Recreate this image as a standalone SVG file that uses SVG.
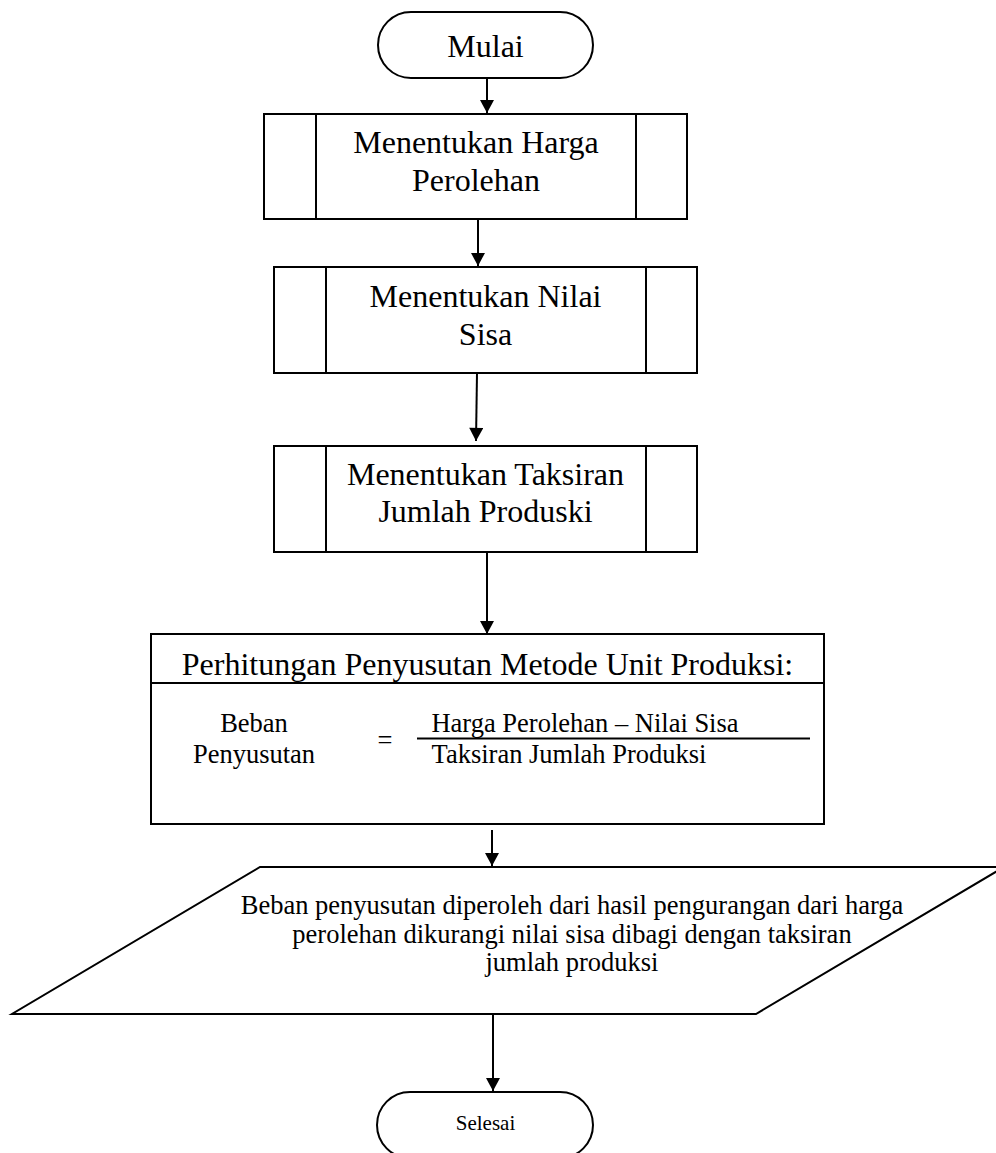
<svg xmlns="http://www.w3.org/2000/svg" width="996" height="1153" viewBox="0 0 996 1153">
  <style>
    .shape { fill: #ffffff; stroke: #000000; stroke-width: 2; }
    .line { fill: none; stroke: #000000; stroke-width: 2; }
    .conn { fill: none; stroke: #000000; stroke-width: 2; marker-end: url(#arrow); }
    text { font-family: "Liberation Serif", "Times New Roman", serif; fill: #000000; text-anchor: middle; }
    .big { font-size: 32px; }
    .mid { font-size: 26.5px; }
    .small { font-size: 21px; }
  </style>
  <defs>
    <marker id="arrow" viewBox="0 0 14 15" refX="14" refY="7.5" markerWidth="15" markerHeight="14" markerUnits="userSpaceOnUse" orient="auto">
      <path d="M0,0 L14,7.5 L0,15 Z" fill="#000000"/>
    </marker>
  </defs>
  <rect width="996" height="1153" fill="#ffffff"/>

  <g id="connectors">
    <path class="conn" d="M487,78 L487,113"/>
    <path class="conn" d="M478,219 L478,266"/>
    <path class="conn" d="M477,373 L476,441"/>
    <path class="conn" d="M487,552 L487,634"/>
    <path class="conn" d="M492,830 L492,866"/>
    <path class="conn" d="M493,1014 L493,1091"/>
  </g>

  <g id="mulai">
    <rect class="shape" x="378" y="12" width="215" height="66" rx="33" ry="33"/>
    <text class="big" x="485.5" y="57">Mulai</text>
  </g>

  <g id="harga-perolehan">
    <rect class="shape" x="264" y="114" width="423" height="105"/>
    <line class="line" x1="316" y1="114" x2="316" y2="219"/>
    <line class="line" x1="636" y1="114" x2="636" y2="219"/>
    <text class="big" x="476" y="153">Menentukan Harga</text>
    <text class="big" x="476" y="191">Perolehan</text>
  </g>

  <g id="nilai-sisa">
    <rect class="shape" x="274" y="267" width="423" height="106"/>
    <line class="line" x1="326" y1="267" x2="326" y2="373"/>
    <line class="line" x1="646" y1="267" x2="646" y2="373"/>
    <text class="big" x="485.5" y="307">Menentukan Nilai</text>
    <text class="big" x="485.5" y="345">Sisa</text>
  </g>

  <g id="taksiran">
    <rect class="shape" x="274" y="446" width="423" height="106"/>
    <line class="line" x1="326" y1="446" x2="326" y2="552"/>
    <line class="line" x1="646" y1="446" x2="646" y2="552"/>
    <text class="big" x="485.5" y="485">Menentukan Taksiran</text>
    <text class="big" x="485.5" y="522">Jumlah Produski</text>
  </g>

  <g id="perhitungan">
    <rect class="shape" x="151" y="634" width="673" height="190"/>
    <line class="line" x1="151" y1="683" x2="824" y2="683"/>
    <text class="big" x="487.5" y="675">Perhitungan Penyusutan Metode Unit Produksi:</text>
    <text class="mid" x="254" y="732">Beban</text>
    <text class="mid" x="254" y="763">Penyusutan</text>
    <text class="mid" x="385" y="749">=</text>
    <line class="line" x1="417" y1="738.5" x2="810" y2="738.5"/>
    <text class="mid" x="585" y="732">Harga Perolehan – Nilai Sisa</text>
    <text class="mid" x="569" y="763">Taksiran Jumlah Produksi</text>
  </g>

  <g id="output">
    <polygon class="shape" points="260,867 1004,867 756,1014 12,1014"/>
    <text class="mid" x="572" y="914">Beban penyusutan diperoleh dari hasil pengurangan dari harga</text>
    <text class="mid" x="572" y="943">perolehan dikurangi nilai sisa dibagi dengan taksiran</text>
    <text class="mid" x="572" y="971">jumlah produksi</text>
  </g>

  <g id="selesai">
    <rect class="shape" x="377" y="1092" width="216" height="66" rx="33" ry="33"/>
    <text class="small" x="485.5" y="1130">Selesai</text>
  </g>
</svg>
